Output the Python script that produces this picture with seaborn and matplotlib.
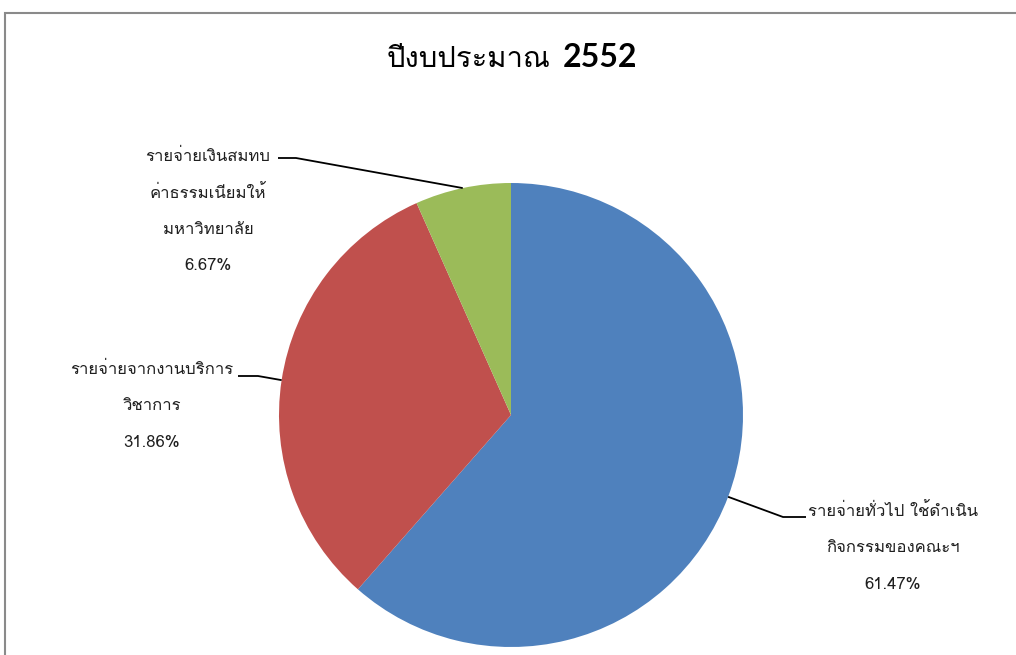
import matplotlib
matplotlib.use("Agg")
import matplotlib.pyplot as plt
from matplotlib import font_manager, ft2font
from matplotlib.patches import Rectangle
import numpy as np
import seaborn as sns

# --- data ---
categories = [
    "รายจ่ายทั่วไป ใช้ดำเนิน\nกิจกรรมของคณะฯ",
    "รายจ่ายจากงานบริการ\nวิชาการ",
    "รายจ่ายเงินสมทบ\nค่าธรรมเนียมให้\nมหาวิทยาลัย",
]
shares = [61.47, 31.86, 6.67]
colors = ["#4F81BD", "#C0504D", "#9BBB59"]
title_text = "ปีงบประมาณ"
title_year = "2552"

sns.set_theme(style="white")


def thai_family():
    """Return the first installed family that has Thai glyphs."""
    for f in font_manager.fontManager.ttflist:
        try:
            cmap = ft2font.FT2Font(f.fname).get_charmap()
        except Exception:
            continue
        if 0x0E01 in cmap and 0x0E33 in cmap:
            return f.name
    return None


fam = thai_family()
families = ([fam] if fam else []) + ["DejaVu Sans"]
plt.rcParams["font.family"] = families

W, H = 1016, 655
fig = plt.figure(figsize=(W / 100, H / 100), dpi=100)
fig.patch.set_facecolor("white")

# pie centre and radius in pixels
cx, cy, R = 511, 415, 232
ax = fig.add_axes([(cx - R) / W, (H - cy - R) / H, 2 * R / W, 2 * R / H])
wedges, _ = ax.pie(shares, colors=colors, startangle=90, counterclock=False,
                   radius=1.0, wedgeprops=dict(linewidth=0))
ax.set_xlim(-1, 1)
ax.set_ylim(-1, 1)
ax.set_aspect("equal")
ax.axis("off")


def px2data(x, y):
    return (x - cx) / R, (cy - y) / R


# label placement: (elbow px, end px, text centre x px, first-line y px)
layout = [
    ((783, 517), (806, 517), 893, 512),
    ((258, 376), (238, 376), 152, 370),
    ((296, 158), (278, 158), 208, 157),
]
label_color = "#1f1f1f"
for w, cat, val, (elbow, end, tx, ty) in zip(wedges, categories, shares, layout):
    ang = np.deg2rad((w.theta1 + w.theta2) / 2)
    p0 = (np.cos(ang), np.sin(ang))
    p1 = px2data(*elbow)
    p2 = px2data(*end)
    ax.plot([p0[0], p1[0], p2[0]], [p0[1], p1[1], p2[1]],
            color="black", lw=1.3, clip_on=False, solid_capstyle="butt")
    lines = cat.split("\n") + [f"{val:.2f}%"]
    for i, ln in enumerate(lines):
        fig.text(tx / W, 1 - (ty + i * 36.5) / H, ln, ha="center", va="center",
                 fontsize=12, color=label_color)

# title: Thai words in regular weight, year in bold
base_y = 1 - 67 / H
fig.text(551 / W, base_y, title_text, ha="right", va="baseline",
         fontsize=21, fontweight="normal", color="black")
fig.text(563 / W, base_y, title_year, ha="left", va="baseline",
         fontsize=23, fontweight="bold", family=["Lato", "DejaVu Sans"],
         color="black")

# chart-area frame
fig.patches.append(Rectangle((5 / W, -0.5), 2.0, 0.5 + (H - 13) / H,
                             transform=fig.transFigure, fill=False,
                             edgecolor="#8a8a8a", linewidth=1.5))

fig.savefig("out.png", dpi=100, facecolor="white")
